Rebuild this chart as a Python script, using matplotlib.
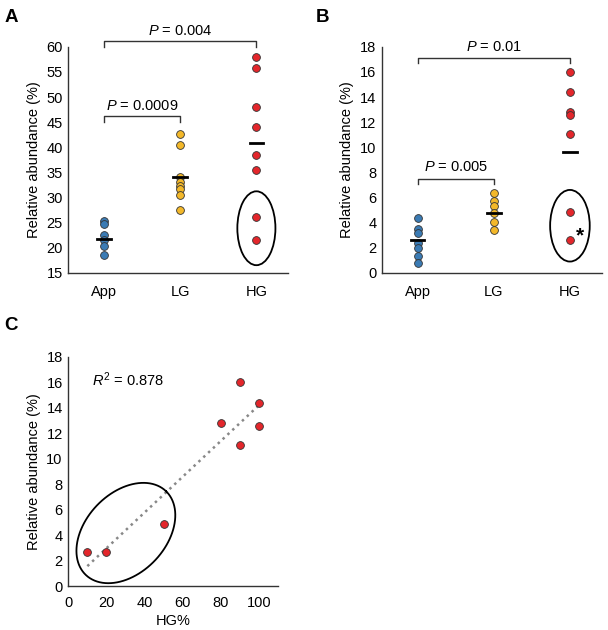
import numpy as np
import matplotlib
matplotlib.use("Agg")
import matplotlib.pyplot as plt
from matplotlib.patches import Ellipse

plt.rcParams["font.family"] = ["Liberation Sans", "DejaVu Sans"]
plt.rcParams["mathtext.fontset"] = "custom"
plt.rcParams["mathtext.rm"] = "Liberation Sans"
plt.rcParams["mathtext.it"] = "Liberation Sans:italic"

# === DATA ===
groups = ["App", "LG", "HG"]
colors = ["#3b7bb4", "#f3b82a", "#e3262b"]

a_app = [25.3, 24.8, 22.6, 21.5, 20.3, 18.6]
a_lg = [42.6, 40.5, 34.1, 33.2, 32.4, 31.7, 30.6, 27.5]
a_hg = [57.9, 55.7, 48.0, 44.0, 38.4, 35.5, 26.1, 21.6]
a_means = [21.8, 34.1, 40.8]

b_app = [4.37, 3.5, 3.17, 2.38, 1.98, 1.32, 0.79]
b_lg = [6.35, 5.74, 5.34, 4.8, 4.02, 3.44]
b_hg = [16.0, 14.4, 12.8, 12.6, 11.1, 4.87, 2.65]
b_means = [2.65, 4.74, 9.66]

c_hg_pct = [10, 20, 50, 80, 90, 90, 100, 100]
c_abund = [2.65, 2.65, 4.85, 12.8, 16.0, 11.1, 14.4, 12.6]


def style_axes(ax):
    for s in ["top", "right"]:
        ax.spines[s].set_visible(False)
    for s in ["left", "bottom"]:
        ax.spines[s].set_color("#333333")
        ax.spines[s].set_linewidth(1.0)
    ax.tick_params(length=0, labelsize=10.5, pad=4)


def bracket(ax, x1, x2, y, drop):
    ax.plot([x1, x1, x2, x2], [y - drop, y, y, y - drop], color="#333333",
            lw=1.0, clip_on=False)


def strip(ax, data, means, ylim, yticks):
    for i, vals in enumerate(data):
        ax.plot([i] * len(vals), vals, "o", color=colors[i], mec="#333333",
                mew=0.6, ms=5.6, clip_on=False, zorder=3)
        ax.plot([i - 0.09, i + 0.09], [means[i], means[i]], color="black",
                lw=2, zorder=4)
    ax.set_xlim(-0.47, 2.42)
    ax.set_ylim(*ylim)
    ax.set_yticks(yticks)
    ax.set_xticks(range(3))
    ax.set_xticklabels(groups)
    ax.tick_params(axis="x", pad=9)
    ax.set_ylabel("Relative abundance (%)", fontsize=10.5)


fig = plt.figure(figsize=(6.08, 6.3), dpi=100)

# === Panel A ===
axA = fig.add_axes([0.1123, 0.5667, 0.362, 0.359])
style_axes(axA)
strip(axA, [a_app, a_lg, a_hg], a_means, (15, 60), np.arange(15, 61, 5))
axA.add_patch(Ellipse((2, 23.9), 0.5, 14.7, fill=False, ec="black", lw=1.3))
bracket(axA, 0, 2, 61.2, 1.2)
axA.text(1, 63.2, r"$\it{P}$ = 0.004", ha="center", va="center", fontsize=10.5)
bracket(axA, 0, 1, 46.3, 1.2)
axA.text(0.5, 48.2, r"$\it{P}$ = 0.0009", ha="center", va="center", fontsize=10.5)

# === Panel B ===
axB = fig.add_axes([0.628, 0.5667, 0.362, 0.359])
style_axes(axB)
strip(axB, [b_app, b_lg, b_hg], b_means, (0, 18), np.arange(0, 19, 2))
axB.add_patch(Ellipse((2, 3.76), 0.52, 5.7, fill=False, ec="black", lw=1.3))
axB.text(2.13, 2.95, "*", ha="center", va="center", fontsize=15,
         fontweight="bold")
bracket(axB, 0, 2, 17.14, 0.4)
axB.text(1, 18.0, r"$\it{P}$ = 0.01", ha="center", va="center", fontsize=10.5)
bracket(axB, 0, 1, 7.49, 0.4)
axB.text(0.5, 8.47, r"$\it{P}$ = 0.005", ha="center", va="center", fontsize=10.5)

# === Panel C ===
axC = fig.add_axes([0.1123, 0.0698, 0.345, 0.364])
style_axes(axC)
axC.set_xlim(0, 110)
axC.set_ylim(0, 18)
axC.set_xticks(np.arange(0, 101, 20))
axC.set_yticks(np.arange(0, 19, 2))
axC.tick_params(axis="x", pad=7)
slope, icpt = np.polyfit(c_hg_pct, c_abund, 1)
xl = np.array([min(c_hg_pct), max(c_hg_pct)])
axC.plot(xl, slope * xl + icpt, ":", color="#888888", lw=1.8, zorder=2)
axC.plot(c_hg_pct, c_abund, "o", color=colors[2], mec="#333333", mew=0.6,
         ms=5.6, zorder=3)
# rotated ellipse drawn in pixel space, converted to data units
t = np.linspace(0, 2 * np.pi, 200)
a_px, b_px, ang = 58, 40, np.deg2rad(46)
px = a_px * np.cos(t) * np.cos(ang) - b_px * np.sin(t) * np.sin(ang)
py = a_px * np.cos(t) * np.sin(ang) + b_px * np.sin(t) * np.cos(ang)
axC.plot(30.2 + px / 1.91, 4.16 + py / 12.73, color="black", lw=1.3)
axC.text(12.5, 16.2, r"$\it{R}^2$ = 0.878", ha="left", va="center", fontsize=10.5)
axC.set_ylabel("Relative abundance (%)", fontsize=10.5)
axC.set_xlabel("HG%", fontsize=10.5, labelpad=3)

# === Panel labels ===
fig.text(0.007, 0.985, "A", fontsize=13.5, fontweight="bold", va="top")
fig.text(0.52, 0.985, "B", fontsize=13.5, fontweight="bold", va="top")
fig.text(0.007, 0.497, "C", fontsize=13.5, fontweight="bold", va="top")

fig.savefig("out.png", dpi=100)
